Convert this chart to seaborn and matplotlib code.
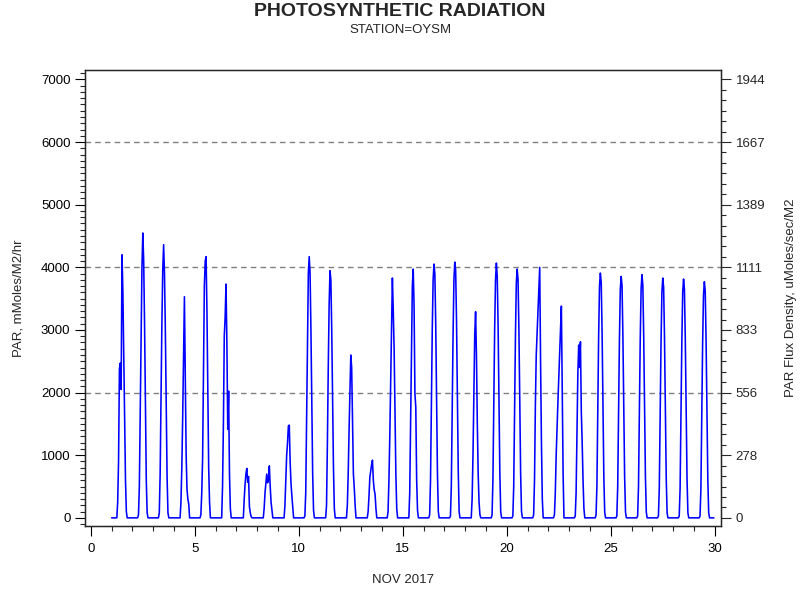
import matplotlib
matplotlib.use("Agg")
import matplotlib.pyplot as plt
from matplotlib.ticker import MultipleLocator
import seaborn as sns
import pandas as pd

# ---------------- data ----------------
title = "PHOTOSYNTHETIC RADIATION"
subtitle = "STATION=OYSM"
x_label = "NOV 2017"
y_label_left = "PAR, mMoles/M2/hr"
y_label_right = "PAR Flux Density, uMoles/sec/M2"

days = list(range(1, 30))
hours = [0, 6, 7, 8, 9, 10, 11, 12, 13, 14, 15, 16, 17, 18, 23]

# hourly PAR (mMoles/M2/hr), one row per day, columns follow `hours`
hourly_par = [
    [0, 0, 250, 900, 2380, 2470, 2050, 4200, 3600, 2600, 1500, 600, 100, 0, 0],   # 1
    [0, 0, 50, 500, 1700, 3000, 4000, 4548, 4100, 3100, 1800, 600, 80, 0, 0],     # 2
    [0, 0, 80, 700, 1900, 3100, 3950, 4361, 3900, 3000, 1800, 650, 80, 0, 0],     # 3
    [0, 0, 0, 250, 800, 1600, 2600, 3530, 2200, 1000, 450, 300, 220, 0, 0],       # 4
    [0, 0, 50, 400, 950, 2300, 3700, 4100, 4170, 3300, 2000, 800, 250, 0, 0],     # 5
    [0, 0, 0, 500, 1500, 2900, 3200, 3733, 2800, 1416, 2023, 700, 150, 0, 0],     # 6
    [0, 0, 0, 0, 300, 540, 700, 790, 570, 660, 180, 80, 20, 0, 0],                # 7
    [0, 0, 0, 150, 400, 550, 700, 560, 620, 830, 500, 250, 120, 0, 0],            # 8
    [0, 0, 0, 200, 600, 1000, 1200, 1470, 1480, 900, 550, 350, 180, 0, 0],        # 9
    [0, 0, 30, 400, 1600, 2900, 3900, 4170, 3900, 3000, 1800, 700, 120, 0, 0],    # 10
    [0, 0, 0, 200, 1200, 2400, 3400, 3946, 3800, 3000, 1900, 800, 150, 0, 0],     # 11
    [0, 0, 0, 200, 700, 1400, 2000, 2599, 2400, 1500, 700, 480, 200, 0, 0],       # 12
    [0, 0, 0, 100, 350, 650, 750, 850, 921, 600, 450, 380, 150, 0, 0],            # 13
    [0, 0, 100, 600, 1300, 2200, 3000, 3829, 3300, 2700, 1700, 700, 150, 0, 0],   # 14
    [0, 0, 0, 400, 1500, 2700, 3700, 3972, 3400, 1980, 1770, 600, 120, 0, 0],     # 15
    [0, 0, 50, 600, 1800, 3000, 3800, 4052, 3900, 3100, 1900, 700, 100, 0, 0],    # 16
    [0, 0, 30, 500, 1700, 2900, 3800, 4084, 3950, 3150, 1950, 750, 100, 0, 0],    # 17
    [0, 0, 0, 300, 1000, 2000, 2900, 3291, 2600, 1500, 700, 250, 50, 0, 0],       # 18
    [0, 0, 40, 600, 1800, 3000, 3800, 4068, 3850, 3050, 1850, 700, 100, 0, 0],    # 19
    [0, 0, 30, 500, 1700, 2900, 3750, 3972, 3800, 3000, 1850, 700, 100, 0, 0],    # 20
    [0, 0, 50, 600, 1800, 2600, 2950, 3300, 3650, 3999, 2500, 1200, 300, 0, 0],   # 21
    [0, 0, 50, 400, 1000, 1443, 1850, 2250, 2650, 3000, 3381, 2000, 700, 0, 0],   # 22
    [0, 0, 30, 400, 1400, 2300, 2758, 2401, 2811, 1700, 1200, 600, 150, 0, 0],    # 23
    [0, 0, 40, 500, 1700, 2900, 3700, 3908, 3750, 2950, 1800, 650, 90, 0, 0],     # 24
    [0, 0, 30, 500, 1650, 2850, 3650, 3855, 3700, 2900, 1750, 650, 90, 0, 0],     # 25
    [0, 0, 30, 500, 1650, 2850, 3650, 3882, 3720, 2900, 1750, 650, 90, 0, 0],     # 26
    [0, 0, 30, 480, 1600, 2800, 3600, 3829, 3680, 2880, 1720, 630, 80, 0, 0],     # 27
    [0, 0, 30, 470, 1600, 2800, 3600, 3813, 3650, 2850, 1700, 620, 80, 0, 0],     # 28
    [0, 0, 30, 460, 1580, 2780, 3560, 3770, 3620, 2820, 1680, 600, 80, 0, 0],     # 29
]

x_ticks = [0, 5, 10, 15, 20, 25, 30]
y_ticks = [0, 1000, 2000, 3000, 4000, 5000, 6000, 7000]
right_tick_labels = ["0", "278", "556", "833", "1111", "1389", "1667", "1944"]
grid_levels = [2000, 4000, 6000]

# ---------------- build table ----------------
rows = []
for d, vals in zip(days, hourly_par):
    for h, v in zip(hours, vals):
        rows.append({"time": d + h / 24.0, "par": v})
df = pd.DataFrame(rows)

# ---------------- plot ----------------
sns.set_style("ticks")
plt.rcParams["font.family"] = ["Liberation Sans", "DejaVu Sans"]

fig = plt.figure(figsize=(8, 6), dpi=100)
ax = fig.add_axes([85 / 800, 1 - 526 / 600, (721 - 85) / 800, (526 - 70) / 600])

for g in grid_levels:
    ax.axhline(g, color="#808080", lw=1.0, ls=(0, (4, 3)), zorder=1)

sns.lineplot(data=df, x="time", y="par", ax=ax, color="#0000ff", lw=1.15,
             estimator=None, sort=False, zorder=3)

ax.set_xlim(-0.28, 30.3)
ax.set_ylim(-130, 7150)
ax.set_xticks(x_ticks)
ax.set_yticks(y_ticks)
ax.xaxis.set_minor_locator(MultipleLocator(1))
ax.yaxis.set_minor_locator(MultipleLocator(100))
ax.tick_params(axis="both", which="major", direction="out", length=7, width=0.8,
               labelsize=9.5, colors="black")
ax.tick_params(axis="both", which="minor", direction="out", length=3.5, width=0.8)
ax.tick_params(axis="x", pad=5)

ax.set_xlabel(x_label, fontsize=9.5, labelpad=14)
ax.set_ylabel(y_label_left, fontsize=9.5, labelpad=12)

for s in ax.spines.values():
    s.set_visible(True)
    s.set_linewidth(0.9)
    s.set_color("black")

ax2 = ax.twinx()
ax2.set_ylim(ax.get_ylim())
ax2.set_yticks(y_ticks)
ax2.set_yticklabels(right_tick_labels)
ax2.yaxis.set_minor_locator(MultipleLocator(1000 / 6))
ax2.tick_params(axis="y", which="major", direction="out", length=7, width=0.8, labelsize=9.5)
ax2.tick_params(axis="y", which="minor", direction="out", length=3.5, width=0.8)
ax2.set_ylabel(y_label_right, fontsize=9.5, labelpad=14)
for s in ax2.spines.values():
    s.set_linewidth(0.9)

fig.text(0.5, 1 - 11 / 600, title, ha="center", va="center", fontsize=14, fontweight="bold")
fig.text(0.5, 1 - 30 / 600, subtitle, ha="center", va="center", fontsize=9.5)

fig.savefig("out.png", dpi=100)
